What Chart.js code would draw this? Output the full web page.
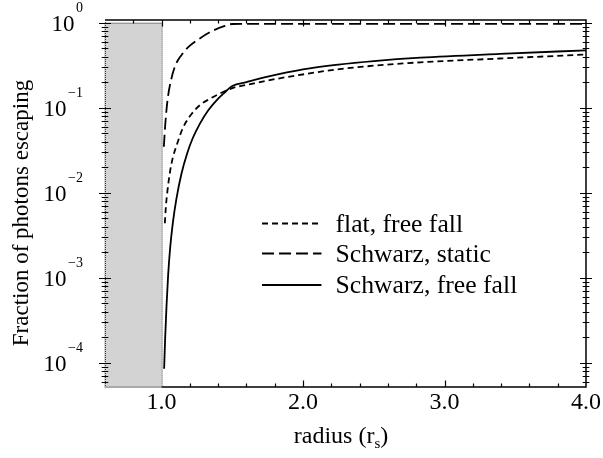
<!DOCTYPE html>
<html lang="en">
<head>
<meta charset="UTF-8">
<title>Fraction of photons escaping</title>
<script src="https://cdn.jsdelivr.net/npm/chart.js"></script>
<style>
  html, body { margin: 0; padding: 0; background: #fff; }
  #wrap { width: 603px; height: 458px; }
</style>
</head>
<body>
<div id="wrap"><canvas id="escapeChart" width="603" height="458"></canvas></div>
<script>
// radius in units of r_s, and fraction of emitted photons that escape
const flatFreeFallR = [1.023, 1.030, 1.042, 1.058, 1.079, 1.107, 1.15, 1.20, 1.27, 1.34, 1.41, 1.50, 1.62, 1.79, 2.03, 2.26, 2.50, 2.83, 3.39, 4.0];
const flatFreeFallFrac = [0.00437, 0.00676, 0.0107, 0.0170, 0.0257, 0.0363, 0.0575, 0.0794, 0.107, 0.127, 0.146, 0.170, 0.188, 0.215, 0.251, 0.285, 0.312, 0.342, 0.379, 0.422];

const schwarzStaticR = [1.016, 1.025, 1.035, 1.046, 1.069, 1.098, 1.136, 1.20, 1.27, 1.355, 1.447, 1.50, 2.0, 2.5, 3.0, 3.5, 4.0];
const schwarzStaticFrac = [0.0347, 0.0603, 0.0955, 0.138, 0.219, 0.316, 0.407, 0.537, 0.653, 0.794, 0.916, 0.966, 0.968, 0.968, 0.968, 0.968, 0.968];

const schwarzFreeFallR = [1.018, 1.025, 1.035, 1.046, 1.06, 1.08, 1.105, 1.14, 1.18, 1.22, 1.27, 1.33, 1.39, 1.44, 1.50, 1.60, 1.75, 2.0, 2.25, 2.50, 2.83, 3.39, 4.0];
const schwarzFreeFallFrac = [8.5e-5, 1.9e-4, 4.7e-4, 1.05e-3, 2.19e-3, 4.47e-3, 8.5e-3, 0.0166, 0.0288, 0.0437, 0.0646, 0.0933, 0.123, 0.148, 0.18, 0.20, 0.232, 0.283, 0.322, 0.354, 0.388, 0.43, 0.473];

const seriesLabels = ['flat, free fall', 'Schwarz, static', 'Schwarz, free fall'];

// axis ranges and tick labels
const xMin = 0.6, xMax = 4.0;
const yMin = 5.18e-5, yMax = 1.076;
const xTickValues = [1, 2, 3, 4];
const xTickLabels = ['1.0', '2.0', '3.0', '4.0'];
const yTickExponents = [0, -1, -2, -3, -4];
const yTickSup = ['0', '\u22121', '\u22122', '\u22123', '\u22124'];
const xTitle = 'radius (r';
const xTitleSub = 's';
const yTitle = 'Fraction of photons escaping';

// inside the horizon (r < r_s) is shaded
const horizonR = 1.0;
const shadeTop = 1.0;

const serif = '"Liberation Serif", "Times New Roman", serif';

function points(xs, ys) {
    return xs.map((v, i) => ({ x: v, y: ys[i] }));
}

const frame = {
    id: 'frame',
    beforeDatasetsDraw(chart) {
        const { ctx, chartArea: a, scales: { x, y } } = chart;
        const gx = x.getPixelForValue(horizonR);
        const gy = y.getPixelForValue(shadeTop);
        ctx.save();
        ctx.fillStyle = '#d3d3d3';
        ctx.fillRect(a.left - 1, gy, gx - a.left + 1, a.bottom - gy + 1);
        ctx.restore();
    },
    afterDatasetsDraw(chart) {
        const { ctx, chartArea: a, scales: { x, y } } = chart;
        const gx = x.getPixelForValue(horizonR);
        const gy = y.getPixelForValue(shadeTop);
        ctx.save();

        // axis box: top and right solid, bottom solid outside the shaded part
        ctx.strokeStyle = '#000';
        ctx.lineWidth = 1.5;
        ctx.beginPath();
        ctx.moveTo(a.left, a.top);
        ctx.lineTo(a.right, a.top);
        ctx.lineTo(a.right, a.bottom);
        ctx.lineTo(gx, a.bottom);
        ctx.stroke();

        // dotted outline of the shaded region
        ctx.lineWidth = 1;
        ctx.strokeStyle = '#333';
        ctx.setLineDash([1, 1]);
        ctx.strokeRect(a.left + 0.5, gy + 0.5, gx - a.left, a.bottom - gy - 0.5);
        ctx.beginPath();
        ctx.moveTo(a.left + 0.5, a.top);
        ctx.lineTo(a.left + 0.5, gy);
        ctx.stroke();
        ctx.setLineDash([]);

        // x ticks, pointing inward on bottom and top
        ctx.strokeStyle = '#000';
        ctx.lineWidth = 1.2;
        ctx.beginPath();
        for (let v = 0.8; v < xMax - 0.01; v += 0.2) {
            const major = Math.abs(v - Math.round(v)) < 1e-6;
            const len = major ? 6.5 : 3.5;
            const px = Math.round(x.getPixelForValue(v)) + 0.5;
            if (px > gx + 1) {
                ctx.moveTo(px, a.bottom);
                ctx.lineTo(px, a.bottom - len);
            }
            ctx.moveTo(px, a.top);
            ctx.lineTo(px, a.top + len);
        }

        // log y ticks, crossing the left and right axes
        for (let e = -5; e <= 0; e++) {
            for (let m = 1; m <= 9; m++) {
                const v = m * Math.pow(10, e);
                if (v < yMin || v > yMax) continue;
                const py = Math.round(y.getPixelForValue(v)) + 0.5;
                const len = m === 1 ? 6 : 3.3;
                ctx.moveTo(a.left - len, py);
                ctx.lineTo(a.left + len, py);
                ctx.moveTo(a.right - len, py);
                ctx.lineTo(a.right + len, py);
            }
        }
        ctx.stroke();

        ctx.fillStyle = '#000';

        // x tick labels
        ctx.font = '24px ' + serif;
        ctx.textAlign = 'center';
        ctx.textBaseline = 'alphabetic';
        xTickValues.forEach((v, i) => {
            ctx.fillText(xTickLabels[i], x.getPixelForValue(v), a.bottom + 22);
        });

        // y tick labels as 10 with a raised exponent
        const labelRight = 83;
        ctx.textAlign = 'left';
        yTickExponents.forEach((p, i) => {
            const py = y.getPixelForValue(Math.pow(10, p));
            ctx.font = '14px ' + serif;
            const sw = ctx.measureText(yTickSup[i]).width;
            ctx.fillText(yTickSup[i], labelRight - sw, py - 10.5);
            ctx.font = '23px ' + serif;
            const bw = ctx.measureText('10').width;
            ctx.fillText('10', labelRight - sw - 1.5 - bw, py + 8);
        });

        // x axis title with subscript
        ctx.font = '24px ' + serif;
        const w1 = ctx.measureText(xTitle).width;
        const w3 = ctx.measureText(')').width;
        ctx.font = '15px ' + serif;
        const w2 = ctx.measureText(xTitleSub).width;
        let tx = 341 - (w1 + w2 + w3) / 2;
        const tb = a.bottom + 56;
        ctx.font = '24px ' + serif;
        ctx.fillText(xTitle, tx, tb);
        ctx.font = '15px ' + serif;
        ctx.fillText(xTitleSub, tx + w1, tb + 5);
        ctx.font = '24px ' + serif;
        ctx.fillText(')', tx + w1 + w2, tb);

        // y axis title
        ctx.save();
        ctx.font = '23px ' + serif;
        ctx.translate(28, 213);
        ctx.rotate(-Math.PI / 2);
        ctx.textAlign = 'center';
        ctx.fillText(yTitle, 0, 0);
        ctx.restore();

        // legend inside the plot
        const legLeft = x.getPixelForValue(1.71);
        const legRight = x.getPixelForValue(2.13);
        const rows = [223.5, 253.5, 285];
        chart.data.datasets.forEach((ds, i) => {
            ctx.strokeStyle = ds.borderColor;
            ctx.lineWidth = ds.borderWidth;
            ctx.setLineDash(ds.borderDash || []);
            ctx.beginPath();
            ctx.moveTo(legLeft, rows[i]);
            ctx.lineTo(legRight, rows[i]);
            ctx.stroke();
            ctx.setLineDash([]);
            ctx.font = '25.7px ' + serif;
            ctx.textAlign = 'left';
            ctx.fillText(ds.label, legRight + 14, rows[i] + 8);
        });

        ctx.restore();
    }
};

const ctx = document.getElementById('escapeChart').getContext('2d');
new Chart(ctx, {
    type: 'line',
    data: {
        datasets: [
            {
                label: seriesLabels[0],
                data: points(flatFreeFallR, flatFreeFallFrac),
                borderColor: '#000',
                borderWidth: 1.8,
                borderDash: [6, 4]
            },
            {
                label: seriesLabels[1],
                data: points(schwarzStaticR, schwarzStaticFrac),
                borderColor: '#000',
                borderWidth: 1.8,
                borderDash: [12, 5]
            },
            {
                label: seriesLabels[2],
                data: points(schwarzFreeFallR, schwarzFreeFallFrac),
                borderColor: '#000',
                borderWidth: 1.8
            }
        ]
    },
    options: {
        responsive: false,
        animation: false,
        devicePixelRatio: 1,
        layout: { padding: { left: 105, right: 17, top: 20, bottom: 71 } },
        elements: {
            point: { radius: 0 },
            line: { cubicInterpolationMode: 'monotone', fill: false }
        },
        plugins: {
            legend: { display: false },
            tooltip: { enabled: false }
        },
        scales: {
            x: { type: 'linear', min: xMin, max: xMax, display: false },
            y: { type: 'logarithmic', min: yMin, max: yMax, display: false }
        }
    },
    plugins: [frame]
});
</script>
</body>
</html>
